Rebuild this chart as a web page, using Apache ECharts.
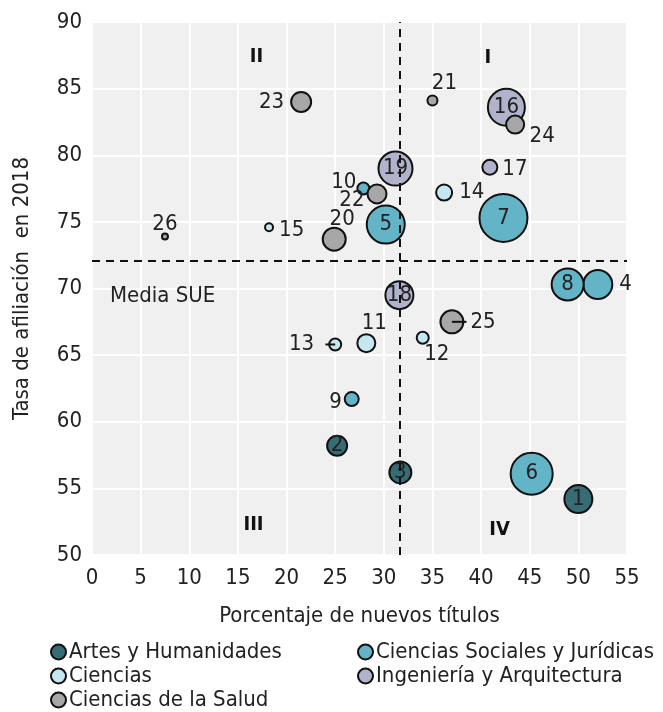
<!DOCTYPE html>
<html>
<head>
<meta charset="utf-8">
<script src="https://cdn.jsdelivr.net/npm/echarts@6/dist/echarts.min.js"></script>
<style>html,body{margin:0;padding:0;background:#fff}#c{width:663px;height:712px}</style>
</head>
<body>
<div id="c"></div>
<script>
// ---- data ----
const areas = ['Artes y Humanidades','Ciencias Sociales y Jurídicas','Ciencias','Ingeniería y Arquitectura','Ciencias de la Salud'];
const ids   = [1,2,3,4,5,6,7,8,9,10,11,12,13,14,15,16,17,18,19,20,21,22,23,24,25,26];
const area  = [0,0,0,1,1,1,1,1,1,1,2,2,2,2,2,3,3,3,3,4,4,4,4,4,4,4];
const nuevos = [50.0,25.2,31.7,52.0,30.2,45.2,42.3,48.9,26.7,27.9,28.2,34.0,25.0,36.2,18.2,42.6,40.9,31.6,31.2,24.9,35.0,29.3,21.5,43.5,37.0,7.5];
const afiliacion = [54.2,58.2,56.2,70.3,74.8,56.1,75.3,70.3,61.7,77.5,65.9,66.3,65.8,77.2,74.6,83.6,79.1,69.5,79.0,73.7,84.1,77.1,84.0,82.3,67.5,73.9];
const tamano = [196,100,121,210,361,441,576,256,49,36,81,36,36,64,16,342,56,196,289,132,25,90,100,81,132,9];
const mediaNuevos = 31.6;
const mediaAfiliacion = 72.1;
const quadLabels = ['I','II','III','IV'];
const quadX = [40.7,16.9,16.6,41.9];
const quadY = [87.3,87.4,52.25,51.9];
const mediaLabel = 'Media SUE';
const mediaLabelPos = [1.85,69.4];
const xTicks = {min:0,max:55,interval:5};
const yTicks = {min:50,max:90,interval:5};

// ---- styles ----
const colors = ['#386c74','#62b4c6','#c5e7ef','#b1b2cb','#a7a7a7'];
const FONT = '"Liberation Sans Narrow", "Arial Narrow", "DejaVu Sans Condensed", sans-serif';
const FS = 22;
const labelPlace = {
  1:{position:'inside'},2:{position:'inside'},3:{position:'inside'},5:{position:'inside'},6:{position:'inside'},
  7:{position:'inside'},8:{position:'inside'},16:{position:'inside'},18:{position:'inside'},19:{position:'inside'},
  4:{position:'right',distance:6},
  9:{position:'left',distance:2,offset:[0,3]},
  10:{position:'left',distance:0,offset:[0,-6]},
  11:{position:'top',distance:2,offset:[8,3]},
  12:{position:'bottom',distance:0,offset:[14,-2]},
  13:{position:'left',distance:14},
  14:{position:'right',distance:6},
  15:{position:'right',distance:5,offset:[0,3]},
  17:{position:'right',distance:4,offset:[0,2]},
  20:{position:'top',distance:0,offset:[8,4]},
  21:{position:'top',distance:2,offset:[12,2]},
  22:{position:'left',distance:2,offset:[0,6]},
  23:{position:'left',distance:6},
  24:{position:'bottom',distance:0,offset:[27,-9]},
  25:{position:'right',distance:6},
  26:{position:'top',distance:0,offset:[0,3]}
};

const series = areas.map((name, a) => {
  const data = [];
  ids.forEach((id, i) => {
    if (area[i] !== a) return;
    const lp = labelPlace[id] || {position:'right'};
    data.push({
      value:[nuevos[i], afiliacion[i], tamano[i], id],
      symbolSize: 2*Math.sqrt(tamano[i]),
      label: Object.assign({show:true}, lp)
    });
  });
  return {
    name, type:'scatter', data, z:3,
    itemStyle:{color:colors[a], borderColor:'#111', borderWidth:2, opacity:1},
    label:{show:true, formatter:p=>String(p.value[3]), color:'#222', fontSize:FS, fontFamily:FONT},
    emphasis:{disabled:true}
  };
});

const leader = (id, dx) => {
  const i = ids.indexOf(id);
  return {type:'line', data:[[nuevos[i],afiliacion[i]],[nuevos[i]+dx,afiliacion[i]]], symbol:'none',
    lineStyle:{color:'#111',width:2}, z:4, silent:true, legendHoverLink:false};
};
series.push(leader(13,-1.0));
series.push(leader(25,1.5));

series.push({
  type:'scatter', data:[], z:5, silent:true,
  markLine:{silent:true, symbol:'none', animation:false,
    lineStyle:{color:'#111', type:[8,6], width:2},
    label:{show:false},
    data:[{xAxis:mediaNuevos},{yAxis:mediaAfiliacion}]}
});

series.push({
  type:'scatter', symbolSize:0, silent:true, z:6, itemStyle:{opacity:1},
  data: quadLabels.map((t,k)=>({value:[quadX[k],quadY[k]], name:t})),
  label:{show:true, position:'inside', formatter:p=>p.name, fontWeight:'bold', fontSize:20, color:'#111', fontFamily:FONT}
});
series.push({
  type:'scatter', symbolSize:0, silent:true, z:6, itemStyle:{opacity:1},
  data:[{value:mediaLabelPos, name:mediaLabel}],
  label:{show:true, position:'right', distance:0, formatter:p=>p.name, fontSize:FS, color:'#222', fontFamily:FONT}
});

const legendCommon = {orient:'vertical', top:641, itemGap:2, itemWidth:15, itemHeight:15, padding:0,
  icon:'circle', textStyle:{fontSize:FS, lineHeight:21, color:'#222', fontFamily:FONT, padding:[0,0,0,-2]}, selectedMode:false};

const chart = echarts.init(document.getElementById('c'), null, {renderer:'canvas'});
chart.setOption({
  animation:false,
  backgroundColor:'#fff',
  textStyle:{fontFamily:FONT},
  grid:{left:92, right:36, top:22, bottom:157, show:true, backgroundColor:'#f0f0f0', borderWidth:0},
  xAxis:{type:'value', min:xTicks.min, max:xTicks.max, interval:xTicks.interval,
    name:'Porcentaje de nuevos títulos', nameLocation:'middle', nameGap:50,
    nameTextStyle:{fontSize:FS, color:'#222', fontFamily:FONT},
    axisLine:{show:false}, axisTick:{show:false},
    axisLabel:{fontSize:FS, color:'#222', margin:12, fontFamily:FONT},
    splitLine:{lineStyle:{color:'#fff', width:2}}},
  yAxis:{type:'value', min:yTicks.min, max:yTicks.max, interval:yTicks.interval,
    name:'Tasa de afiliación  en 2018', nameLocation:'middle', nameGap:59,
    nameTextStyle:{fontSize:FS, color:'#222', fontFamily:FONT},
    axisLine:{show:false}, axisTick:{show:false},
    axisLabel:{fontSize:FS, color:'#222', margin:10, fontFamily:FONT},
    splitLine:{lineStyle:{color:'#fff', width:2}}},
  legend:[
    Object.assign({data:[areas[0],areas[2],areas[4]], left:50}, legendCommon),
    Object.assign({data:[areas[1],areas[3]], left:357}, legendCommon)
  ],
  series
});
</script>
</body>
</html>
